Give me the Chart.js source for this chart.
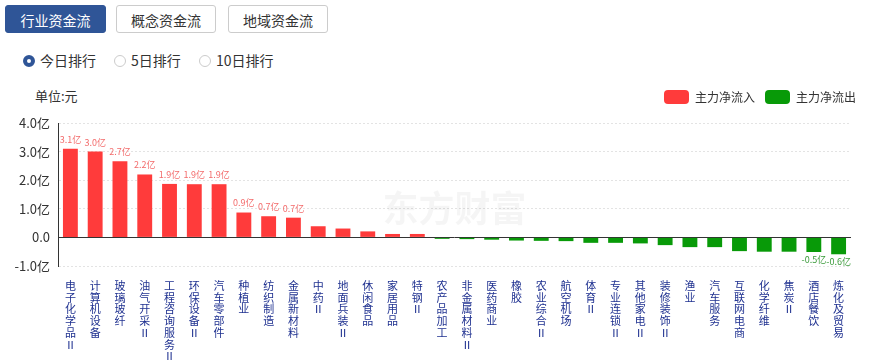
<!DOCTYPE html>
<html>
<head>
<meta charset="utf-8">
<script src="https://cdn.jsdelivr.net/npm/chart.js@4"></script>
<style>
  body { margin: 0; width: 871px; height: 364px; background: #fff; font-family: "Noto Sans CJK SC", sans-serif; position: relative; overflow: hidden; }
  .tab { position: absolute; top: 5px; height: 28px; line-height: 28px; text-align: center; font-size: 14px; border: 1px solid #ccc; border-radius: 3px; box-sizing: border-box; color: #333; background: #fff; }
  .tab.on { background: #2f5597; border-color: #2f5597; color: #fff; }
  .radio { position: absolute; top: 50px; font-size: 14px; color: #333; line-height: 20px; }
  .radio i { display: inline-block; width: 10px; height: 10px; border: 1px solid #ccc; border-radius: 50%; vertical-align: -1px; margin-right: 5px; box-sizing: content-box; }
  .radio.on i { width: 4px; height: 4px; border: 4px solid #2f5597; }
  .unit { position: absolute; left: 35px; top: 86px; font-size: 13px; color: #333; }
  #wrap { position: absolute; left: 0; top: 80px; width: 871px; height: 284px; }
</style>
</head>
<body>
<div class="tab on" style="left:5px;width:101px">行业资金流</div>
<div class="tab" style="left:116px;width:100px">概念资金流</div>
<div class="tab" style="left:228px;width:100px">地域资金流</div>
<div class="radio on" style="left:23px"><i></i>今日排行</div>
<div class="radio" style="left:114px"><i></i>5日排行</div>
<div class="radio" style="left:199px"><i></i>10日排行</div>
<div class="unit">单位:元</div>
<div id="wrap"><canvas id="chartFlow"></canvas></div>
<script>
const categories = ['电子化学品Ⅱ', '计算机设备', '玻璃玻纤', '油气开采Ⅱ', '工程咨询服务Ⅱ', '环保设备Ⅱ', '汽车零部件', '种植业',
    '纺织制造', '金属新材料', '中药Ⅱ', '地面兵装Ⅱ', '休闲食品', '家居用品', '特钢Ⅱ', '农产品加工',
    '非金属材料Ⅱ', '医药商业', '橡胶', '农业综合Ⅱ', '航空机场', '体育Ⅱ', '专业连锁Ⅱ', '其他家电Ⅱ',
    '装修装饰Ⅱ', '渔业', '汽车服务', '互联网电商', '化学纤维', '焦炭Ⅱ', '酒店餐饮', '炼化及贸易'];
// 主力净流入 (亿元)
const netFlow = [3.1, 3.0, 2.66, 2.2, 1.87, 1.86, 1.86, 0.87, 0.74, 0.69, 0.39, 0.31, 0.21, 0.12, 0.12, -0.05,
    -0.06, -0.08, -0.11, -0.12, -0.13, -0.19, -0.19, -0.21, -0.27, -0.34, -0.34, -0.48, -0.50, -0.50, -0.51, -0.59];
const yTicks = [-1, 0, 1, 2, 3, 4];
const labelFirst = 10;   // bars labelled from the left
const labelLast = 2;     // bars labelled from the right

const inflow = netFlow.map(v => v > 0 ? v : null);
const outflow = netFlow.map(v => v < 0 ? v : null);

const FONT = '"Noto Sans CJK SC", sans-serif';

const extras = {
    id: 'extras',
    beforeInit(chart) {
        const fit = chart.legend.fit;
        chart.legend.fit = function () {
            fit.bind(chart.legend)();
            this.height = 43;
        };
    },
    afterLayout(chart) {
        // legend sits a bit further right than the plot area
        chart.legend.right += 15;
        chart.legend.left += 15;
    },
    beforeDatasetsDraw(chart) {
        const { ctx, chartArea, scales } = chart;
        ctx.save();
        ctx.fillStyle = 'rgba(0,0,0,0.04)';
        ctx.font = 'bold 36px ' + FONT;
        ctx.textAlign = 'center';
        ctx.textBaseline = 'middle';
        ctx.fillText('东方财富', (chartArea.left + chartArea.right) / 2, scales.y.getPixelForValue(1));
        const y0 = scales.y.getPixelForValue(0);
        ctx.strokeStyle = '#333';
        ctx.lineWidth = 1;
        ctx.beginPath();
        ctx.moveTo(chartArea.left, Math.round(y0) + 0.5);
        ctx.lineTo(chartArea.right, Math.round(y0) + 0.5);
        ctx.stroke();
        ctx.restore();
    },
    afterDatasetsDraw(chart) {
        const { ctx } = chart;
        ctx.save();
        ctx.font = '9px ' + FONT;
        ctx.textAlign = 'center';
        netFlow.forEach((v, i) => {
            if (i >= labelFirst && i < netFlow.length - labelLast) return;
            const ds = v > 0 ? 0 : 1;
            const bar = chart.getDatasetMeta(ds).data[i];
            if (v > 0) {
                ctx.fillStyle = '#f36b6b';
                ctx.textBaseline = 'bottom';
                ctx.fillText(v.toFixed(1) + '亿', bar.x, bar.y - 5);
            } else {
                ctx.fillStyle = '#3a9a3a';
                ctx.textBaseline = 'top';
                ctx.fillText(v.toFixed(1) + '亿', bar.x, bar.y + 3);
            }
        });
        ctx.restore();
    }
};

const ctxFlow = document.getElementById('chartFlow').getContext('2d');
const chart = new Chart(ctxFlow, {
    type: 'bar',
    data: {
        labels: categories.map(s => Array.from(s)),
        datasets: [{
            label: '主力净流入',
            data: inflow,
            backgroundColor: '#ff3b3b',
            barPercentage: 0.6,
            categoryPercentage: 1
        }, {
            label: '主力净流出',
            data: outflow,
            backgroundColor: '#089a08',
            barPercentage: 0.6,
            categoryPercentage: 1
        }]
    },
    options: {
        responsive: true,
        maintainAspectRatio: false,
        animation: false,
        layout: { padding: { left: 0, right: 20, top: 0, bottom: 0 } },
        plugins: {
            legend: {
                position: 'top',
                align: 'end',
                labels: {
                    boxWidth: 25,
                    boxHeight: 14,
                    useBorderRadius: true,
                    borderRadius: 4,
                    color: '#333',
                    font: { size: 12, family: FONT },
                    padding: 10
                }
            },
            tooltip: { enabled: false }
        },
        scales: {
            x: {
                stacked: true,
                grid: { display: false },
                border: { display: false },
                ticks: {
                    autoSkip: false,
                    maxRotation: 0,
                    minRotation: 0,
                    padding: 6,
                    color: '#1f3190',
                    font: { size: 11, family: FONT, lineHeight: '11.7px' }
                },
                afterFit(scale) { scale.height = 98; }
            },
            y: {
                stacked: true,
                min: -1,
                max: 4,
                afterBuildTicks(scale) { scale.ticks = yTicks.map(v => ({ value: v })); },
                grid: { color: '#e3e3e3', drawTicks: false },
                border: { display: true, color: '#333', dash: [2, 2] },
                ticks: {
                    padding: 8,
                    color: '#333',
                    font: { size: 13, family: FONT },
                    callback: v => v === 0 ? '0.0' : v.toFixed(1) + '亿'
                },
                afterFit(scale) { scale.width = 58; }
            }
        }
    },
    plugins: [extras]
});
</script>
</body>
</html>
